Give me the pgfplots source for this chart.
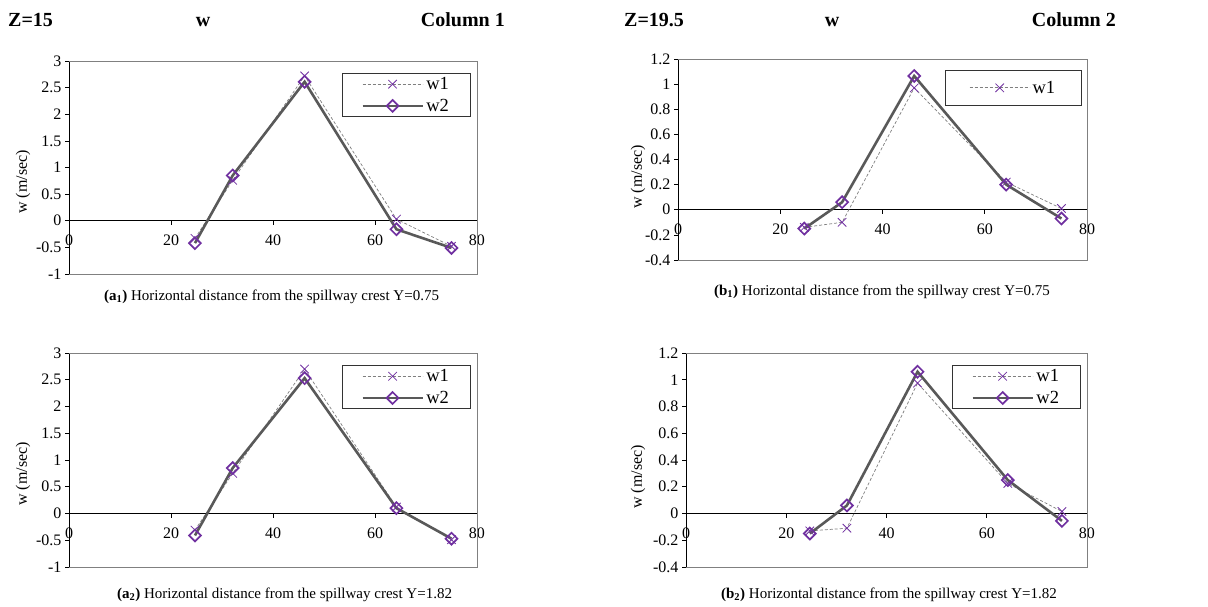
\documentclass[border=0pt]{standalone}
\usepackage{fontspec}
\setmainfont{Liberation Serif}
\usepackage{pgfplots}
\pgfplotsset{compat=1.18}
\definecolor{mpurple}{HTML}{7030A0}
\definecolor{lgray}{HTML}{595959}
\definecolor{dgray}{HTML}{7F7F7F}
\pgfplotsset{
 wax/.style={
  scale only axis, anchor=south west,
  axis x line=middle, axis y line=left,
  axis line style={-, black, line width=0.8pt},
  xmin=0, xmax=80, xtick={0,20,40,60,80},
  hide obscured x ticks=false,
  tick align=outside, major tick length=4pt,
  tick style={black, line width=0.6pt},
  /pgf/number format/assume math mode=true,
  ticklabel style={font=\fontsize{16}{16}\selectfont},
  x tick label style={yshift=-7pt},
  clip=false,
  legend cell align=left,
  legend style={anchor=north east, draw=black!80, line width=0.8pt,
    font=\fontsize{18.5}{18.5}\selectfont, inner xsep=19pt, inner ysep=1.5pt,
    row sep=3pt, nodes={inner sep=2.5pt}},
  legend image code/.code={\draw[mark repeat=2,mark phase=2,##1] plot coordinates {(0pt,0pt) (30pt,0pt) (60pt,0pt)};},
 },
 wone/.style={dgray, densely dashed, line width=0.7pt, mark=x, mark size=6pt, mark options={solid, mpurple, line width=0.8pt}},
 wtwo/.style={lgray, line width=2.6pt, mark=square, mark size=4.2pt, mark options={solid, mpurple, fill=white, line width=1.7pt, rotate=45}},
}
\newcommand{\frameax}{\draw[gray, line width=0.9pt] (rel axis cs:0,1) -- (rel axis cs:1,1) -- (rel axis cs:1,0) -- (rel axis cs:0,0);}
\begin{document}
\begin{tikzpicture}
\useasboundingbox (0,0) rectangle (1208pt,-607pt);
% headers
\node[anchor=base west, inner sep=0, font=\fontsize{20}{20}\selectfont\bfseries] at (8pt,-27pt) {Z=15};
\node[anchor=base, inner sep=0, font=\fontsize{20}{20}\selectfont\bfseries] at (203pt,-27pt) {w};
\node[anchor=base east, inner sep=0, font=\fontsize{20}{20}\selectfont\bfseries] at (505pt,-27pt) {Column 1};
\node[anchor=base west, inner sep=0, font=\fontsize{20}{20}\selectfont\bfseries] at (624pt,-27pt) {Z=19.5};
\node[anchor=base, inner sep=0, font=\fontsize{20}{20}\selectfont\bfseries] at (832pt,-27pt) {w};
\node[anchor=base east, inner sep=0, font=\fontsize{20}{20}\selectfont\bfseries] at (1116pt,-27pt) {Column 2};
% (a1)
\begin{axis}[wax, at={(69pt,-274pt)}, width=408pt, height=213pt,
  ymin=-1, ymax=3, ytick={-1,-0.5,0,0.5,1,1.5,2,2.5,3},
  legend style={at={(0.985,0.944)}}]
\frameax
\addplot[wone] coordinates {(24.7,-0.33) (32.1,0.76) (46.2,2.72) (64.2,0.03) (75,-0.48)};
\addlegendentry{w1}
\addplot[wtwo] coordinates {(24.7,-0.42) (32.1,0.85) (46.2,2.61) (64.2,-0.16) (75,-0.51)};
\addlegendentry{w2}
\end{axis}
% (b1)
\begin{axis}[wax, at={(678pt,-260pt)}, width=409pt, height=201pt,
  ymin=-0.4, ymax=1.2, ytick={-0.4,-0.2,0,0.2,0.4,0.6,0.8,1,1.2},
  legend style={at={(0.988,0.945)}, inner ysep=8pt, inner xsep=24pt}]
\frameax
\addplot[wone] coordinates {(24.7,-0.14) (32.1,-0.10) (46.2,0.97) (64.2,0.22) (75,0.01)};
\addlegendentry{w1}
\addplot[wtwo, forget plot] coordinates {(24.7,-0.15) (32.1,0.06) (46.2,1.065) (64.2,0.20) (75,-0.07)};
\end{axis}
% (a2)
\begin{axis}[wax, at={(69pt,-567pt)}, width=408pt, height=214pt,
  ymin=-1, ymax=3, ytick={-1,-0.5,0,0.5,1,1.5,2,2.5,3},
  legend style={at={(0.985,0.944)}}]
\frameax
\addplot[wone] coordinates {(24.7,-0.31) (32.1,0.75) (46.2,2.70) (64.2,0.12) (75,-0.49)};
\addlegendentry{w1}
\addplot[wtwo] coordinates {(24.7,-0.41) (32.1,0.85) (46.2,2.53) (64.2,0.10) (75,-0.47)};
\addlegendentry{w2}
\end{axis}
% (b2)
\begin{axis}[wax, at={(686pt,-567pt)}, width=401pt, height=214pt,
  ymin=-0.4, ymax=1.2, ytick={-0.4,-0.2,0,0.2,0.4,0.6,0.8,1,1.2},
  legend style={at={(0.985,0.944)}}]
\frameax
\addplot[wone] coordinates {(24.7,-0.13) (32.1,-0.11) (46.2,0.975) (64.2,0.225) (75,0.015)};
\addlegendentry{w1}
\addplot[wtwo] coordinates {(24.7,-0.15) (32.1,0.06) (46.2,1.06) (64.2,0.25) (75,-0.055)};
\addlegendentry{w2}
\end{axis}
% y labels
\node[rotate=90, font=\fontsize{16}{16}\selectfont] at (23pt,-182pt) {w (m/sec)};
\node[rotate=90, font=\fontsize{16}{16}\selectfont] at (638pt,-177pt) {w (m/sec)};
\node[rotate=90, font=\fontsize{16}{16}\selectfont] at (23pt,-474pt) {w (m/sec)};
\node[rotate=90, font=\fontsize{16}{16}\selectfont] at (638pt,-477pt) {w (m/sec)};
% captions
\node[anchor=base, inner sep=0, font=\fontsize{15}{15}\selectfont] at (271.5pt,-300pt) {\textbf{(a\textsubscript{1})} Horizontal distance from the spillway crest Y=0.75};
\node[anchor=base, inner sep=0, font=\fontsize{15}{15}\selectfont] at (882pt,-295pt) {\textbf{(b\textsubscript{1})} Horizontal distance from the spillway crest Y=0.75};
\node[anchor=base, inner sep=0, font=\fontsize{15}{15}\selectfont] at (284.5pt,-598pt) {\textbf{(a\textsubscript{2})} Horizontal distance from the spillway crest Y=1.82};
\node[anchor=base, inner sep=0, font=\fontsize{15}{15}\selectfont] at (889pt,-598pt) {\textbf{(b\textsubscript{2})} Horizontal distance from the spillway crest Y=1.82};
\end{tikzpicture}
\end{document}
